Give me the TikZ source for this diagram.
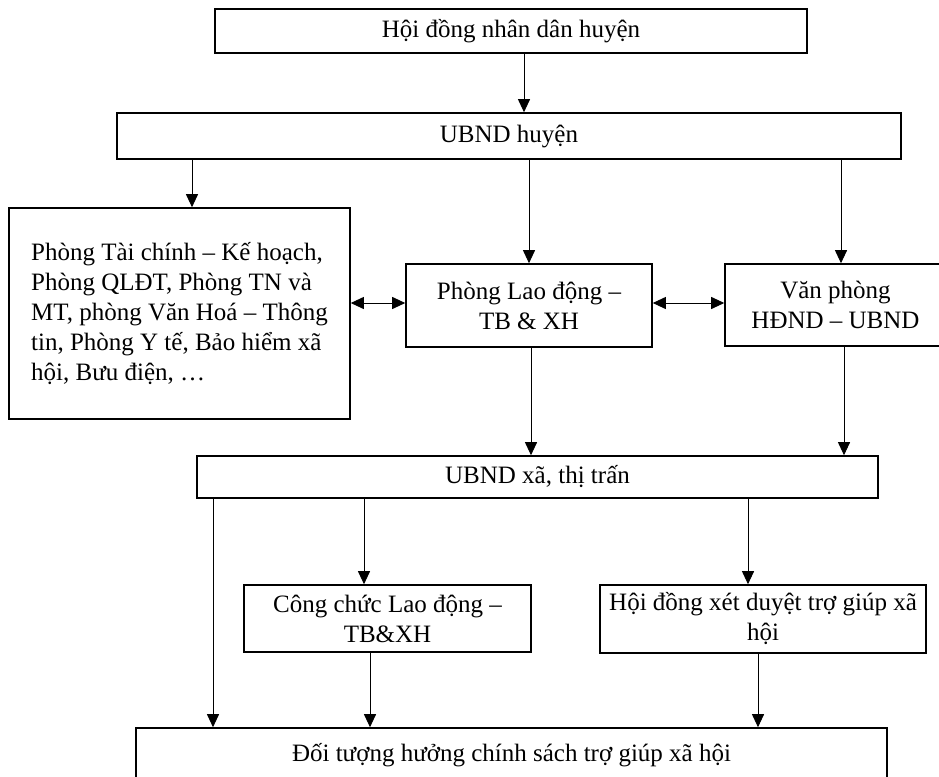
\documentclass[tikz,border=0pt]{standalone}
\usepackage{fontspec}
\setmainfont{Liberation Serif}
\usetikzlibrary{arrows.meta}

\begin{document}
\begin{tikzpicture}[x=1pt, y=-1pt,
  box/.style={rectangle, draw, line width=1.6pt, inner sep=0pt,
    font=\fontsize{25pt}{30pt}\selectfont, align=center},
  arr/.style={-{Triangle[length=13pt, width=12pt]}, line width=0.9pt},
  darr/.style={{Triangle[length=13pt, width=12pt]}-{Triangle[length=13pt, width=12pt]},
    line width=0.9pt}
]
\useasboundingbox (0,0) rectangle (939,776);

\node[box, minimum width=592pt, minimum height=44pt] at (511, 31) (hdnd)
  {Hội đồng nhân dân huyện};
\node[box, minimum width=784pt, minimum height=46pt] at (509, 136) (ubndh)
  {UBND huyện};

\node[box, minimum width=341pt, minimum height=211pt, align=left]
  at (179.5, 313.5) (phong)
  {Phòng Tài chính – Kế hoạch,\\Phòng QLĐT, Phòng TN và\\MT, phòng Văn Hoá – Thông\\tin, Phòng Y tế, Bảo hiểm xã\\hội, Bưu điện, …};
\node[box, minimum width=246pt, minimum height=83pt] at (529, 305.5) (ldtbxh)
  {Phòng Lao động –\\TB \& XH};
\node[box, minimum width=221pt, minimum height=82pt] at (835.5, 305) (vp)
  {Văn phòng\\HĐND – UBND};

\node[box, minimum width=681pt, minimum height=42pt] at (537.5, 477) (ubndxa)
  {UBND xã, thị trấn};

\node[box, minimum width=287pt, minimum height=67pt] at (387.5, 618.5) (ccld)
  {Công chức Lao động –\\TB\&XH};
\node[box, minimum width=326pt, minimum height=68pt] at (763, 619) (hdxd)
  {Hội đồng xét duyệt trợ giúp xã\\hội};

\node[box, minimum width=751pt, minimum height=54pt] at (511.5, 755) (doituong)
  {Đối tượng hưởng chính sách trợ giúp xã hội};

\draw[arr] (524,0 |- hdnd.south) -- (524,0 |- ubndh.north);
\draw[arr] (192,0 |- ubndh.south) -- (192,0 |- phong.north);
\draw[arr] (ldtbxh.north |- ubndh.south) -- (ldtbxh.north);
\draw[arr] (841,0 |- ubndh.south) -- (841,0 |- vp.north);

\draw[darr] (phong.east |- 0,303) -- (ldtbxh.west |- 0,303);
\draw[darr] (ldtbxh.east |- 0,303) -- (vp.west |- 0,303);

\draw[arr] (531,0 |- ldtbxh.south) -- (531,0 |- ubndxa.north);
\draw[arr] (844,0 |- vp.south) -- (844,0 |- ubndxa.north);

\draw[arr] (213,0 |- ubndxa.south) -- (213,0 |- doituong.north);
\draw[arr] (364,0 |- ubndxa.south) -- (364,0 |- ccld.north);
\draw[arr] (748,0 |- ubndxa.south) -- (748,0 |- hdxd.north);

\draw[arr] (370,0 |- ccld.south) -- (370,0 |- doituong.north);
\draw[arr] (758,0 |- hdxd.south) -- (758,0 |- doituong.north);
\end{tikzpicture}
\end{document}
